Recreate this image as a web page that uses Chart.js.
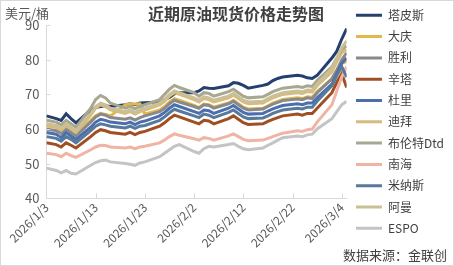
<!DOCTYPE html>
<html><head><meta charset="utf-8">
<script src="https://cdn.jsdelivr.net/npm/chart.js@4.4.1/dist/chart.umd.min.js"></script>
<style>html,body{margin:0;padding:0;background:#fff;overflow:hidden}#wrap{width:454px;height:266px;position:relative}</style>
</head><body><div id="wrap"><canvas id="c" width="454" height="266"></canvas></div>
<script>
// ---- data ----
const chartTitle = '近期原油现货价格走势图';
const unitLabel = '美元/桶';
const sourceLabel = '数据来源：金联创';
const dates = ['2026/1/3','2026/1/5','2026/1/6','2026/1/7','2026/1/8','2026/1/9',
 '2026/1/12','2026/1/13','2026/1/14','2026/1/15','2026/1/16',
 '2026/1/19','2026/1/20','2026/1/21','2026/1/22','2026/1/23',
 '2026/1/26','2026/1/27','2026/1/28','2026/1/29','2026/1/30',
 '2026/2/2','2026/2/3','2026/2/4','2026/2/5','2026/2/6',
 '2026/2/9','2026/2/10','2026/2/11','2026/2/12','2026/2/13',
 '2026/2/16','2026/2/17','2026/2/18','2026/2/19','2026/2/20',
 '2026/2/23','2026/2/24','2026/2/25','2026/2/26','2026/2/27',
 '2026/3/2','2026/3/3','2026/3/4','2026/3/5'];
const xTickLabels = ['2026/1/3','2026/1/13','2026/1/23','2026/2/2','2026/2/12','2026/2/22','2026/3/4'];
const yTickValues = [40,50,60,70,80,90];
const seriesNames = ['塔皮斯','大庆','胜利','辛塔','杜里','迪拜','布伦特Dtd','南海','米纳斯','阿曼','ESPO'];
const seriesColors = ['#25406f','#e2b84c','#8a8a8a','#a04f22','#4a6eae','#d7bb7c','#a8a791','#efb4a4','#56799c','#cbbf96','#c4c4c4'];

const tapis = [63.8,63.0,62.5,64.4,63.0,61.8, 65.5,66.2,66.5,66.7,66.5, 67.0,67.3,67.0,67.5,67.6, 67.8,68.5,69.1,70.2,70.5, 70.5,71.0,72.0,71.8,71.7, 72.5,73.4,73.2,72.6,71.8, 72.6,73.0,74.0,74.6,75.0, 75.5,75.3,74.8,74.6,75.5, 80.5,82.5,86.0,89.0];
const daqing = [61.0,60.5,59.5,61.0,60.0,59.0, 62.5,63.8,64.5,64.2,63.8, 67.0,67.3,67.2,67.3,64.3, 65.5,66.5,67.8,68.8,68.3, 66.8,66.2,67.2,67.0,66.3, 67.5,68.3,67.3,66.3,65.8, 66.0,66.7,67.5,68.0,68.5, 69.0,68.8,69.3,69.2,70.8, 74.5,77.0,79.0,79.5];
const shengli = [60.0,59.5,58.7,60.0,59.0,58.0, 62.0,63.5,64.3,64.0,63.3, 62.8,63.2,62.6,63.3,63.8, 65.0,66.0,67.3,68.3,67.8, 66.5,66.0,67.0,66.8,66.0, 67.3,68.0,67.0,66.0,65.5, 65.8,66.5,67.2,67.7,68.2, 68.7,68.5,69.0,68.8,70.5, 74.5,77.0,80.0,82.0];
const cinta = [56.0,55.5,54.8,56.0,55.3,54.5, 57.8,59.0,59.8,59.5,59.0, 58.5,59.0,58.4,59.0,59.3, 60.8,61.8,63.0,64.0,63.5, 62.0,61.5,62.5,62.3,61.5, 63.0,63.8,62.8,61.8,61.3, 61.5,62.2,62.8,63.3,63.8, 64.3,64.0,64.5,64.5,66.0, 70.5,73.5,76.0,72.0];
const duri = [59.0,58.5,57.5,59.0,58.0,57.0, 60.5,62.0,62.8,62.5,62.0, 61.5,62.0,61.3,62.0,62.3, 63.8,64.8,66.0,67.0,66.5, 65.0,64.5,65.5,65.3,64.5, 66.0,66.8,65.8,64.8,64.3, 64.5,65.2,65.8,66.3,66.8, 67.3,67.0,67.5,67.5,69.0, 73.0,76.0,79.0,80.5];
const dubai = [61.0,60.5,59.7,61.0,60.0,59.0, 64.0,66.0,67.0,66.5,65.5, 64.5,65.0,64.3,65.0,65.5, 67.0,68.0,69.5,70.5,70.0, 68.5,67.8,68.8,68.5,67.8, 69.0,69.8,68.8,67.8,67.3, 67.5,68.3,69.0,69.5,70.0, 70.5,70.3,70.8,70.7,72.5, 76.5,79.5,82.0,83.0];
const brentDtd = [62.5,62.0,61.2,62.5,61.5,60.5, 66.0,68.5,69.7,69.0,67.5, 66.0,66.5,65.8,66.5,67.0, 68.5,70.0,71.5,72.6,72.0, 70.5,69.5,70.5,70.3,69.5, 70.8,71.5,70.5,69.5,69.0, 69.3,70.0,70.8,71.3,71.8, 72.3,72.0,72.5,72.3,74.0, 78.0,80.5,83.0,84.0];
const nanhai = [53.0,52.6,52.0,53.0,52.3,51.8, 54.0,54.8,55.3,55.2,54.8, 54.5,54.8,54.3,54.8,55.0, 56.0,56.8,57.8,58.6,58.2, 57.2,56.8,57.5,57.3,56.8, 58.0,58.6,57.8,57.0,56.6, 56.8,57.3,57.8,58.3,58.8, 59.5,59.3,59.8,60.0,62.0, 67.0,71.0,75.0,78.0];
const minas = [57.8,57.3,56.5,57.8,57.0,56.0, 59.5,60.8,61.5,61.2,60.8, 60.3,60.8,60.2,60.8,61.0, 62.5,63.5,64.7,65.7,65.2, 63.8,63.3,64.3,64.0,63.3, 64.8,65.5,64.5,63.5,63.0, 63.2,63.8,64.5,65.0,65.5, 66.0,65.8,66.3,66.3,68.0, 72.5,75.5,78.0,75.0];
const oman = [61.5,61.0,60.2,61.5,60.5,59.5, 64.5,66.5,67.5,67.0,66.0, 65.0,65.5,64.8,65.5,66.0, 67.5,68.5,70.0,71.0,70.5, 69.0,68.3,69.3,69.0,68.3, 69.5,70.3,69.3,68.3,67.8, 68.0,68.8,69.5,70.0,70.5, 71.0,70.8,71.3,71.2,73.0, 77.5,80.5,83.5,85.5];
const espo = [48.7,48.0,47.3,48.0,47.2,47.0, 49.5,50.3,50.8,51.0,50.5, 50.0,49.8,49.5,50.2,50.5, 52.0,53.0,54.0,55.0,55.5, 53.5,53.0,54.3,55.0,54.8, 55.5,55.8,55.0,54.3,54.0, 54.5,55.3,56.0,56.8,57.5, 58.0,57.8,58.3,58.5,60.0, 63.0,65.0,67.0,68.0];
const seriesValues = [tapis,daqing,shengli,cinta,duri,dubai,brentDtd,nanhai,minas,oman,espo];

// ---- build ----
const FONT = '"Noto Sans CJK SC","Noto Sans",sans-serif';
const base = Date.UTC(2026,0,3);
const dayOf = s => { const [y,m,d] = s.split('/').map(Number); return (Date.UTC(y,m-1,d) - base) / 864e5; };
const xs = dates.map(dayOf);
const tickDays = xTickLabels.map(dayOf);
const n = seriesNames.length;

const datasets = seriesNames.map((name,i) => ({
  label: name,
  data: seriesValues[i].map((v,j) => ({x: xs[j], y: v})),
  borderColor: seriesColors[i],
  backgroundColor: seriesColors[i],
  borderWidth: 3,
  pointRadius: 0,
  tension: 0,
  order: n - i
}));

const extras = {
  id: 'extras',
  afterDraw(chart) {
    const ctx = chart.ctx, ca = chart.chartArea;
    const sx = chart.scales.x, sy = chart.scales.y;
    ctx.save();
    ctx.strokeStyle = '#d9d9d9'; ctx.lineWidth = 1;
    ctx.beginPath();
    sx.ticks.forEach(t => { const px = Math.round(sx.getPixelForValue(t.value)) + 0.5; ctx.moveTo(px, ca.bottom); ctx.lineTo(px, ca.bottom - 5); });
    sy.ticks.forEach(t => { const py = Math.round(sy.getPixelForValue(t.value)) + 0.5; ctx.moveTo(ca.left, py); ctx.lineTo(ca.left + 4, py); });
    ctx.stroke();
    const tb = chart.titleBlock;
    ctx.font = '13px ' + FONT; ctx.fillStyle = '#595959';
    ctx.textBaseline = 'middle'; ctx.textAlign = 'left';
    ctx.fillText(unitLabel, 5, tb.top + tb.height / 2);
    ctx.fillStyle = '#404040'; ctx.textAlign = 'right';
    ctx.fillText(sourceLabel, chart.width - 7, chart.height - 11);
    ctx.strokeStyle = '#d9d9d9';
    ctx.strokeRect(0.5, 0.5, chart.width - 1, chart.height - 1);
    ctx.restore();
  }
};

new Chart(document.getElementById('c'), {
  type: 'line',
  data: { datasets },
  plugins: [extras],
  options: {
    responsive: false,
    animation: false,
    layout: { padding: { left: 18, right: 0, bottom: 14, top: 0 } },
    plugins: {
      title: { display: true, text: chartTitle, color: '#404040', font: { family: FONT, size: 16, weight: 'bold' }, padding: { top: 4, bottom: 2 } },
      legend: {
        position: 'right', align: 'start',
        labels: {
          usePointStyle: true, pointStyle: 'line', pointStyleWidth: 26, boxHeight: 12,
          color: '#404040', font: { family: FONT, size: 12 }, padding: 9.3,
          sort: (a, b) => a.datasetIndex - b.datasetIndex
        }
      },
      tooltip: { enabled: false }
    },
    scales: {
      x: {
        type: 'linear', min: 0, max: 61,
        afterBuildTicks: s => { s.ticks = tickDays.map(v => ({ value: v })); },
        ticks: { callback: v => xTickLabels[tickDays.indexOf(v)], minRotation: 45, maxRotation: 45, color: '#595959', font: { family: FONT, size: 12 }, padding: 2 },
        grid: { display: false, drawTicks: false },
        border: { display: true, color: '#d9d9d9' }
      },
      y: {
        min: 40, max: 90,
        afterBuildTicks: s => { s.ticks = yTickValues.map(v => ({ value: v })); },
        ticks: { color: '#595959', font: { family: FONT, size: 13 }, padding: 7 },
        grid: { display: false, drawTicks: false },
        border: { display: true, color: '#d9d9d9' }
      }
    }
  }
});
</script></body></html>
